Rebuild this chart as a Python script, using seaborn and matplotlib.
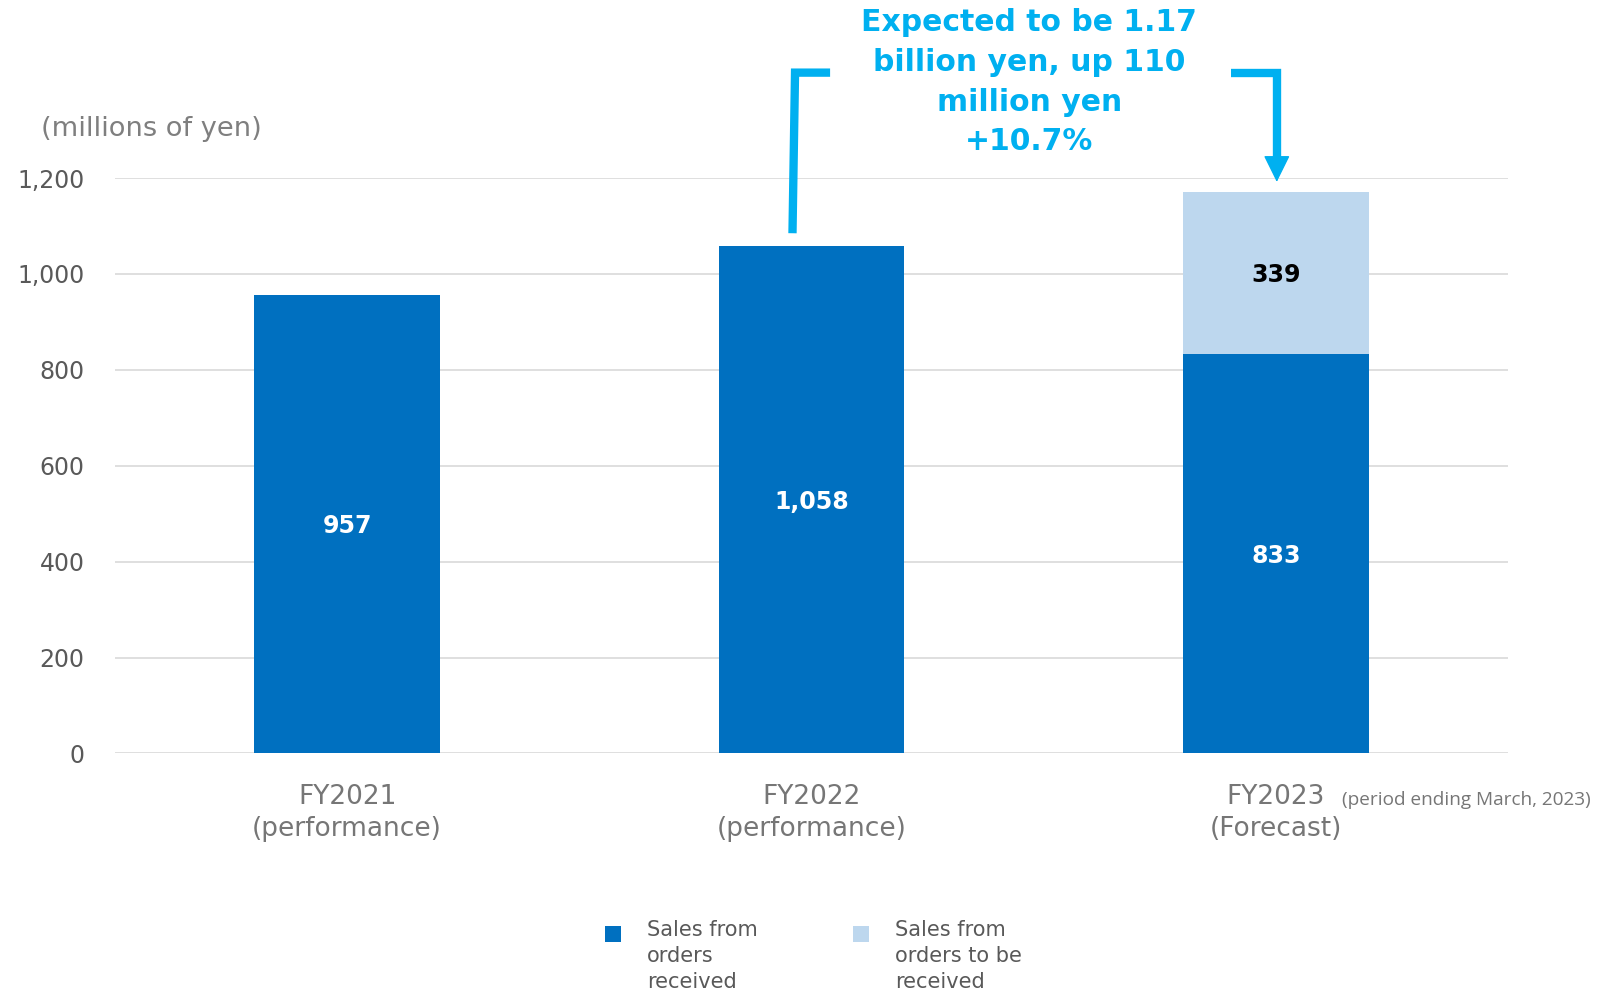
import matplotlib
matplotlib.use("Agg")
import matplotlib.pyplot as plt
from matplotlib.patches import Rectangle
from matplotlib.ticker import FuncFormatter
import seaborn as sns
import pandas as pd

# Sales by fiscal year (millions of yen)
categories = ["FY2021\n(performance)", "FY2022\n(performance)", "FY2023\n(Forecast)"]
orders_received = [957, 1058, 833]
orders_to_be_received = [0, 0, 339]
y_ticks = [0, 200, 400, 600, 800, 1000, 1200]

totals = [a + b for a, b in zip(orders_received, orders_to_be_received)]
df = pd.DataFrame({"year": categories, "received": orders_received,
                   "pending": orders_to_be_received, "total": totals})

DARK = "#0070C0"
LIGHT = "#BDD7EE"
ACCENT = "#00B0F0"
GRID = "#D9D9D9"

sns.set_theme(style="white")
plt.rcParams["font.family"] = ["DejaVu Sans"]

fig = plt.figure(figsize=(16.14, 9.90), dpi=100)
ax = fig.add_axes([0.07125, 0.2390, 0.8631, 0.5811])

# full stack first (light), then the received part on top of it (dark)
sns.barplot(data=df, x="year", y="total", color=LIGHT, saturation=1,
            width=0.4, errorbar=None, linewidth=0, ax=ax)
sns.barplot(data=df, x="year", y="received", color=DARK, saturation=1,
            width=0.4, errorbar=None, linewidth=0, ax=ax)

ax.set_xlim(-0.5, 2.5)
ax.set_ylim(0, 1200)
ax.set_yticks(y_ticks)
ax.yaxis.set_major_formatter(FuncFormatter(lambda v, p: f"{int(v):,}"))
ax.set_axisbelow(True)
ax.grid(axis="y", color=GRID, linewidth=1.2)
ax.grid(axis="x", visible=False)
for s in ax.spines.values():
    s.set_visible(False)
ax.set_xlabel("")
ax.set_ylabel("")
ax.tick_params(axis="y", length=0, pad=22, labelsize=17, labelcolor="#595959")
ax.tick_params(axis="x", length=0, pad=22, labelsize=19, labelcolor="#767676")
for lab in ax.get_xticklabels():
    lab.set_linespacing(1.3)

# value labels, centred in each segment
for i, (base, extra) in enumerate(zip(orders_received, orders_to_be_received)):
    ax.text(i, base / 2, f"{base:,}", ha="center", va="center_baseline",
            color="white", fontsize=17, fontweight="bold")
    if extra:
        ax.text(i, base + extra / 2, f"{extra:,}", ha="center", va="center_baseline",
                color="black", fontsize=17, fontweight="bold")

# period note next to the forecast label
ax.text(2.142, -0.081, "(period ending March, 2023)", transform=ax.get_xaxis_transform(),
        ha="left", va="center", fontsize=13.7, color="#767676",
        family=["Open Sans", "DejaVu Sans"])

# unit label
fig.text(0.0254, 0.8695, "(millions of yen)", ha="left", va="center",
         fontsize=19.6, color="#7F7F7F")

# growth callout: bracket from FY2022 to FY2023 with arrow
line_kw = dict(color=ACCENT, lw=6, clip_on=False, solid_capstyle="butt",
               solid_joinstyle="miter")
ax.plot([0.959, 0.9645, 1.040], [1085, 1420, 1420], **line_kw)
ax.plot([1.904, 2.002, 2.002], [1420, 1420, 1240], **line_kw)
ax.annotate("", xy=(2.002, 1192), xytext=(2.002, 1250), annotation_clip=False,
            arrowprops=dict(arrowstyle="-|>,head_length=0.85,head_width=0.42",
                            mutation_scale=20, color=ACCENT, lw=1,
                            shrinkA=0, shrinkB=0))
ax.text(1.469, 1400, "Expected to be 1.17\nbillion yen, up 110\nmillion yen\n+10.7%",
        ha="center", va="center", fontsize=21.5, fontweight="bold", color=ACCENT,
        linespacing=1.47, clip_on=False)

# legend
legend_items = [(DARK, "Sales from\norders\nreceived", 605, 647),
                (LIGHT, "Sales from\norders to be\nreceived", 853, 895)]
W, H = 1614, 990
for color, text, sx, tx in legend_items:
    fig.add_artist(Rectangle((sx / W, 1 - 942 / H), 16 / W, 16 / H,
                             transform=fig.transFigure, color=color, lw=0))
    fig.text(tx / W, 1 - 920 / H, text, ha="left", va="top", fontsize=15,
             color="#595959", linespacing=1.37)

fig.savefig("out.png", dpi=100)
